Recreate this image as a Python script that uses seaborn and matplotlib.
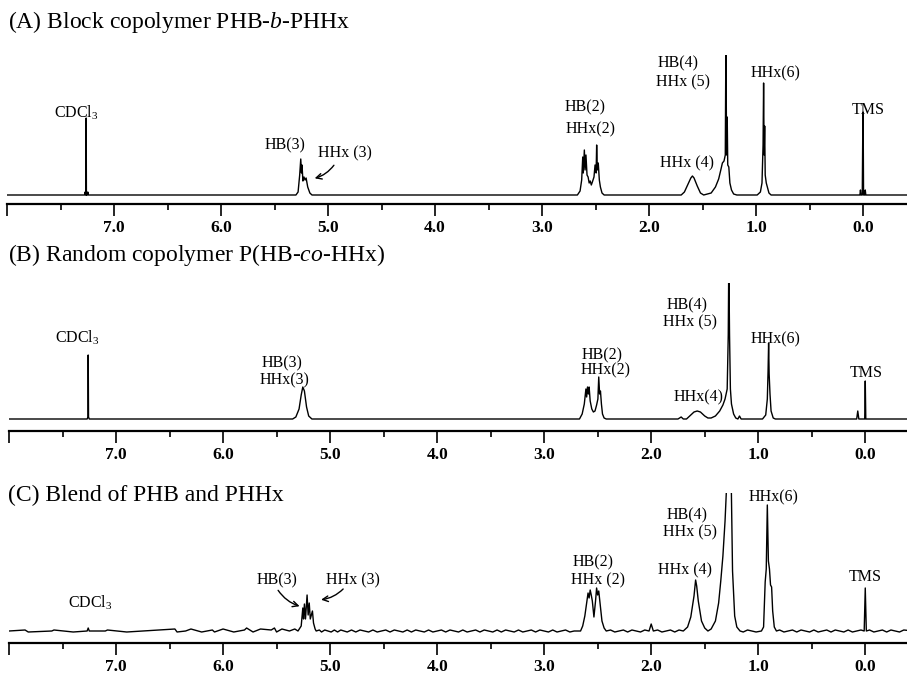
import numpy as np
import pandas as pd
import matplotlib.pyplot as plt
import seaborn as sns

# spectrum A: block copolymer (ppm, intensity)
a_ppm = [8.0, 7.275, 7.27, 7.265, 7.262, 7.26, 7.258, 7.25, 7.245, 7.24,
         5.30, 5.28, 5.265, 5.255, 5.248, 5.243, 5.235, 5.225, 5.215, 5.205, 5.19, 5.17, 5.15,
         2.67, 2.645, 2.63, 2.62, 2.615, 2.605, 2.598, 2.59, 2.58, 2.57, 2.56, 2.55, 2.54, 2.53,
         2.515, 2.505, 2.495, 2.49, 2.484, 2.475, 2.465, 2.455, 2.44, 2.42,
         1.70, 1.67, 1.64, 1.61, 1.595, 1.58, 1.55, 1.52, 1.49,
         1.42, 1.38, 1.35, 1.33, 1.315, 1.30, 1.288, 1.282, 1.276, 1.27, 1.265, 1.255, 1.245, 1.23, 1.21, 1.18,
         0.99, 0.96, 0.945, 0.935, 0.93, 0.925, 0.92, 0.915, 0.905, 0.895, 0.88, 0.86,
         0.03, 0.025, 0.02, 0.008, 0.004, 0.0, -0.004, -0.015, -0.02, -0.025, -0.45]
a_int = [0, 0, 3, 0, 0, 77, 0, 0, 3, 0,
         0, 3, 20, 36, 22, 30, 14, 18, 15, 17, 8, 2, 0,
         0, 4, 15, 38, 22, 45, 25, 40, 20, 18, 12, 14, 10, 13,
         18, 30, 22, 50, 25, 32, 15, 8, 2, 0,
         0, 3, 10, 17, 19, 17, 9, 2, 0,
         2, 8, 16, 25, 32, 34, 40, 160, 40, 78, 30, 28, 12, 5, 1, 0,
         0, 3, 12, 50, 112, 40, 69, 20, 12, 8, 2, 0,
         0, 5, 0, 0, 55, 83, 0, 0, 5, 0, 0]

# spectrum B: random copolymer
b_ppm = [8.0, 7.27, 7.262, 7.26, 7.257, 7.25,
         5.35, 5.32, 5.29, 5.27, 5.255, 5.24, 5.22, 5.20, 5.17,
         2.67, 2.645, 2.625, 2.61, 2.603, 2.595, 2.587, 2.58, 2.57, 2.555, 2.54, 2.525,
         2.51, 2.498, 2.49, 2.482, 2.474, 2.465, 2.455, 2.44, 2.42,
         1.75, 1.72, 1.70, 1.67, 1.64, 1.60, 1.57, 1.54, 1.50, 1.47, 1.44,
         1.40, 1.36, 1.33, 1.31, 1.29, 1.28, 1.275, 1.268, 1.26, 1.25, 1.23, 1.21, 1.19, 1.175, 1.16,
         0.96, 0.93, 0.915, 0.908, 0.903, 0.898, 0.89, 0.88, 0.86, 0.84,
         0.08, 0.07, 0.06, 0.005, 0.0, -0.005, -0.45]
b_int = [0, 0, 2, 64, 2, 0,
         0, 2, 10, 24, 32, 28, 12, 3, 0,
         0, 5, 15, 30, 22, 32, 25, 32, 18, 10, 7, 8,
         14, 20, 42, 25, 28, 15, 5, 1, 0,
         0, 2, 0, 0, 3, 7, 8, 7, 3, 1, 1,
         3, 8, 14, 20, 30, 84, 160, 84, 30, 15, 5, 1, 0, 3, 0,
         0, 4, 20, 48, 76, 45, 25, 8, 1, 0,
         0, 8, 0, 0, 38, 0, 0]

# spectrum C: blend
c_ppm = [8.0, 7.27, 7.26, 7.25,
         5.30, 5.27, 5.255, 5.248, 5.24, 5.23, 5.215, 5.205, 5.195, 5.185, 5.165, 5.155, 5.14, 5.13,
         2.02, 2.0, 1.98,
         2.66, 2.64, 2.62, 2.60, 2.59, 2.58, 2.57, 2.56, 2.55, 2.535, 2.52, 2.51, 2.50, 2.49, 2.48, 2.46, 2.44, 2.42,
         1.70, 1.66, 1.63, 1.60, 1.585, 1.575, 1.56, 1.53, 1.50, 1.47,
         1.44, 1.40, 1.37, 1.35, 1.33, 1.31, 1.285, 1.27, 1.255, 1.24, 1.22, 1.20, 1.17,
         0.97, 0.95, 0.935, 0.925, 0.915, 0.905, 0.895, 0.885, 0.875, 0.865, 0.85, 0.83,
         0.01, 0.0, -0.01, -0.45]
c_int = [0, 0, 3, 0,
         0, 5, 23, 12, 27, 12, 36, 16, 28, 12, 20, 8, 2, 0,
         0, 7, 0,
         0, 5, 15, 30, 38, 33, 41, 36, 30, 14, 30, 43, 36, 40, 30, 10, 3, 0,
         0, 4, 14, 35, 51, 45, 30, 10, 3, 0,
         2, 10, 28, 50, 75, 110, 170, 160, 170, 60, 15, 4, 0,
         0, 4, 49, 62, 126, 70, 62, 46, 44, 20, 4, 0,
         0, 43, 0, 0]

# baseline ripple of spectrum C
c_noise_ppm = [7.85, 7.82, 7.6, 7.58, 7.4, 7.1, 7.08, 6.9, 6.75, 6.6, 6.45, 6.43, 6.35, 6.3, 6.2,
               6.1, 6.08, 6.0, 5.9, 5.8, 5.78, 5.72, 5.65, 5.55, 5.52, 5.5, 5.45, 5.38, 5.33,
               5.1, 5.08, 5.05, 5.02, 4.99, 4.96, 4.93, 4.9, 4.87, 4.84, 4.8, 4.76, 4.72, 4.68,
               4.64, 4.6, 4.56, 4.52, 4.48, 4.44, 4.4, 4.36, 4.32, 4.28, 4.24, 4.2, 4.16, 4.12,
               4.08, 4.04, 4.0, 3.96, 3.92, 3.88, 3.84, 3.8, 3.76, 3.72, 3.68, 3.64, 3.6, 3.56,
               3.52, 3.48, 3.44, 3.4, 3.36, 3.32, 3.28, 3.24, 3.2, 3.16, 3.12, 3.08, 3.04, 3.0,
               2.96, 2.92, 2.88, 2.84, 2.8, 2.76, 2.72, 2.38, 2.34, 2.3, 2.26, 2.22, 2.18, 2.14,
               2.1, 2.06, 1.94, 1.9, 1.86, 1.82, 1.78, 1.74, 1.14, 1.1, 1.06, 1.02, 0.8, 0.76,
               0.72, 0.68, 0.64, 0.6, 0.56, 0.52, 0.48, 0.44, 0.4, 0.36, 0.32, 0.28, 0.24, 0.2,
               0.16, 0.12, 0.08, 0.04, -0.04, -0.08, -0.12, -0.16, -0.2, -0.24, -0.28, -0.32, -0.36]
c_noise_int = [1, -1, 0, 1, -1, 0, 1, -1, 0, 1, 2, -1, 0, 2, -1,
               1, -1, 2, -1, 1, 3, -1, 2, 1, 3, -1, 2, 0, 2,
               1, -1, 1, 0, -1, 1, -1, 1, 0, -1, 1, -1, 1, 0,
               -1, 1, -1, 0, 1, -1, 1, 0, -1, 1, -1, 1, 0, -1,
               1, -1, 0, 1, -1, 1, 0, -1, 1, -1, 0, 1, -1, 1,
               0, -1, 1, -1, 1, 0, -1, 1, -1, 0, 1, -1, 1, 0,
               -1, 1, -1, 0, 1, -1, 0, 1, -1, 0, 1, -1, 1, 0,
               -1, 1, 1, -1, 0, 1, -1, 1, -1, 1, 0, -1, 1, -1,
               0, 1, -1, 1, 0, -1, 1, -1, 0, 1, -1, 1, 0, -1,
               1, -1, 0, 1, 1, -1, 0, 1, -1, 1, 0, -1, 1]

titles = ['(A) Block copolymer PHB-$\\mathit{b}$-PHHx',
          '(B) Random copolymer P(HB-$\\mathit{co}$-HHx)',
          '(C) Blend of PHB and PHHx']
tick_vals = [0, 1, 2, 3, 4, 5, 6, 7, 8]
tick_text = ['0.0', '1.0', '2.0', '3.0', '4.0', '5.0', '6.0', '7.0', '']

# peak labels: (text, ppm, height)
a_labels = [('CDCl$_3$', 7.35, 82), ('HB(3)', 5.40, 50), ('HHx (3)', 4.84, 42),
            ('HB(2)', 2.60, 88), ('HHx(2)', 2.55, 66), ('HHx (4)', 1.65, 32),
            ('HB(4)', 1.73, 132), ('HHx (5)', 1.68, 113), ('HHx(6)', 0.82, 122), ('TMS', -0.05, 85)]
b_labels = [('CDCl$_3$', 7.36, 81), ('HB(3)', 5.45, 56), ('HHx(3)', 5.43, 39),
            ('HB(2)', 2.46, 64), ('HHx(2)', 2.43, 49), ('HHx(4)', 1.56, 22),
            ('HB(4)', 1.66, 114), ('HHx (5)', 1.64, 97), ('HHx(6)', 0.84, 80), ('TMS', -0.01, 46)]
c_labels = [('CDCl$_3$', 7.24, 28), ('HB(3)', 5.50, 51), ('HHx (3)', 4.79, 51),
            ('HB(2)', 2.54, 69), ('HHx (2)', 2.50, 51), ('HHx (4)', 1.68, 61),
            ('HB(4)', 1.66, 116), ('HHx (5)', 1.64, 99), ('HHx(6)', 0.86, 134), ('TMS', 0.0, 54)]

sns.set_style('white')
plt.rcParams['font.family'] = ['Liberation Serif', 'DejaVu Serif']
plt.rcParams['mathtext.fontset'] = 'custom'
plt.rcParams['mathtext.rm'] = 'Liberation Serif'
plt.rcParams['mathtext.it'] = 'Liberation Serif:italic'
plt.rcParams['text.color'] = 'black'
plt.rcParams['xtick.color'] = 'black'
plt.rcParams['axes.edgecolor'] = 'black'

fig = plt.figure(figsize=(9.07, 6.77), dpi=100)
H = 677.0
panels = [
    (a_ppm, a_int, a_labels, 7, 204, 55, (-9, 140), (8.0, -0.41), 22),
    (b_ppm, b_int, b_labels, 9, 431, 283, (-12, 136), (8.0, -0.39), 255),
    (c_ppm + c_noise_ppm, c_int + c_noise_int, c_labels, 9, 643, 493, (-12, 138), (8.0, -0.39), 495),
]

axes = []
for i, (ppm, inten, labels, left, ybot, ytop, ylim, xlim, ytitle) in enumerate(panels):
    ax = fig.add_axes([left / 907, (H - ybot) / H, 1 - left / 907, (ybot - ytop) / H])
    df = pd.DataFrame({'ppm': ppm, 'intensity': inten}).sort_values('ppm', ascending=False)
    sns.lineplot(data=df, x='ppm', y='intensity', estimator=None, sort=False,
                 color='black', linewidth=1.0, ax=ax)
    ax.set_xlim(*xlim)
    ax.set_ylim(*ylim)
    ax.set_xlabel('')
    ax.set_ylabel('')
    ax.set_yticks([])
    for s in ['top', 'left', 'right']:
        ax.spines[s].set_visible(False)
    ax.spines['bottom'].set_linewidth(1.6)
    ax.set_xticks(tick_vals)
    ax.set_xticklabels(tick_text, fontsize=12.5, fontweight='bold')
    ax.set_xticks(np.arange(0.5, 8, 1.0), minor=True)
    ax.tick_params(axis='x', which='major', direction='out', length=8.5, width=1.2, pad=3, bottom=True)
    ax.tick_params(axis='x', which='minor', direction='out', length=4.5, width=1.2, bottom=True)
    for text, x, y in labels:
        ax.text(x, y, text, ha='center', va='center', fontsize=11.5)
    fig.text(8 / 907, 1 - ytitle / H, titles[i], ha='left', va='center', fontsize=17)
    axes.append(ax)

# arrows
arrow_kw = dict(arrowstyle='->', color='black', lw=1.0)
axes[0].annotate('', xy=(5.15, 16), xytext=(4.93, 32),
                 arrowprops=dict(connectionstyle='arc3,rad=-0.2', **arrow_kw))
axes[2].annotate('', xy=(5.26, 24), xytext=(5.50, 43),
                 arrowprops=dict(connectionstyle='arc3,rad=0.2', **arrow_kw))
axes[2].annotate('', xy=(5.11, 31), xytext=(4.86, 44),
                 arrowprops=dict(connectionstyle='arc3,rad=-0.2', **arrow_kw))

fig.savefig('out.png', dpi=100)
